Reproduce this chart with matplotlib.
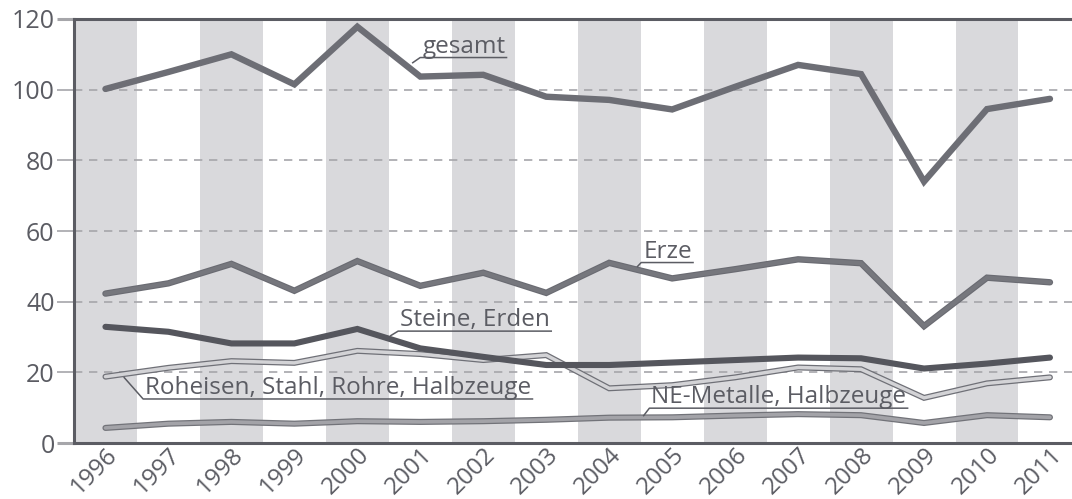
import matplotlib
matplotlib.use("Agg")
import matplotlib.pyplot as plt
import matplotlib.patheffects as pe
from matplotlib.transforms import ScaledTranslation

# Daten
jahre = ['1996', '1997', '1998', '1999', '2000', '2001', '2002', '2003',
         '2004', '2005', '2006', '2007', '2008', '2009', '2010', '2011']
gesamt = [100.2, 105.0, 110.0, 101.5, 117.8, 103.7, 104.2, 98.0,
          97.1, 94.4, 100.8, 107.0, 104.4, 74.0, 94.5, 97.4]
erze = [42.3, 45.2, 50.7, 43.1, 51.5, 44.5, 48.2, 42.5,
        51.0, 46.6, 49.2, 52.0, 50.9, 33.1, 46.8, 45.5]
steine_erden = [32.9, 31.5, 28.2, 28.2, 32.3, 26.8, 24.4, 22.1,
                22.1, 22.8, 23.5, 24.2, 24.0, 21.1, 22.5, 24.2]
roheisen = [18.8, 21.3, 23.2, 22.7, 26.1, 25.2, 23.5, 24.9,
            15.5, 16.4, 18.6, 21.4, 20.9, 12.8, 16.9, 18.6]
ne_metalle = [4.3, 5.5, 6.0, 5.5, 6.2, 6.0, 6.2, 6.6,
              7.2, 7.3, 7.8, 8.2, 7.9, 5.7, 7.9, 7.3]

y_ticks = [0, 20, 40, 60, 80, 100, 120]

# Beschriftungen: Text, Textposition (x, Grundlinie), Startpunkt der Hinweislinie
labels = [
    ('gesamt', (5.03, 110.5), (4.87, 107.5)),
    ('Erze', (8.54, 52.5), (8.44, 49.8)),
    ('Steine, Erden', (4.68, 33.1), (4.52, 30.3)),
    ('Roheisen, Stahl, Rohre, Halbzeuge', (0.63, 13.9), (0.29, 18.7)),
    ('NE-Metalle, Halbzeuge', (8.67, 11.3), (8.54, 7.6)),
]

dunkel = '#5b5c63'
plt.rcParams['font.family'] = ['Open Sans', 'DejaVu Sans']

fig = plt.figure(figsize=(10.72, 4.99), dpi=100)
ax = fig.add_axes([0.069, 0.112, 0.931, 0.850])

x = list(range(len(jahre)))

# graue Streifen
for i in x:
    if i % 2 == 0:
        ax.axvspan(i - 0.5, i + 0.5, color='#d9d9dc', lw=0, zorder=0)

# gestrichelte Hilfslinien
for v in y_ticks[1:-1]:
    ax.axhline(v, color='#a6a6aa', lw=1.2, ls=(0, (5, 4)), zorder=1)

def linie(werte, farbe, lw, rand=None, rand_lw=None):
    effekte = []
    if rand is not None:
        effekte = [pe.Stroke(linewidth=rand_lw, foreground=rand), pe.Normal()]
    ax.plot(x, werte, color=farbe, lw=lw, solid_capstyle='round',
            solid_joinstyle='miter', zorder=3, path_effects=effekte)

linie(ne_metalle, '#a3a3a8', 2.6, '#727379', 4.4)
linie(roheisen, '#d3d3d6', 2.5, '#6f7077', 4.3)
linie(steine_erden, '#55565d', 4.4)
linie(erze, '#76777d', 3.0, '#6a6b72', 4.6)
linie(gesamt, '#6d6e75', 4.6)

ax.set_xlim(-0.5, 15.35)
ax.set_ylim(0, 120)
ax.set_yticks(y_ticks)
ax.set_yticklabels([str(v) for v in y_ticks])
ax.set_xticks(x)
ax.set_xticklabels(jahre, rotation=45, ha='right', va='top',
                   rotation_mode='anchor')
versatz = ScaledTranslation(10 / 72, 0, fig.dpi_scale_trans)
for lab in ax.get_xticklabels():
    lab.set_transform(lab.get_transform() + versatz)

ax.tick_params(axis='y', length=12, width=1.2, color='#a6a6aa', pad=2,
               labelsize=18, labelcolor=dunkel)
ax.tick_params(axis='x', length=0, pad=0, labelsize=17.5, labelcolor=dunkel)
for t, v in zip(ax.yaxis.get_major_ticks(), y_ticks):
    if v in (0, 120):
        t.tick1line.set_color(dunkel)
        t.tick1line.set_markeredgewidth(2.2)

for s in ['left', 'bottom', 'top']:
    ax.spines[s].set_color(dunkel)
    ax.spines[s].set_linewidth(2.2)
ax.spines['right'].set_visible(False)

# Beschriftungen mit Unterstreichung und Hinweislinie
fig.canvas.draw()
renderer = fig.canvas.get_renderer()
inv = ax.transData.inverted()
for text, (tx, ty), (lx, ly) in labels:
    t = ax.text(tx, ty, text, fontsize=17.5, color=dunkel, ha='left',
                va='baseline', zorder=5)
    bb = t.get_window_extent(renderer)
    bx0, by = ax.transData.transform((tx, ty))
    ux0, uy = inv.transform((bx0 - 2, by - 5))
    ux1, _ = inv.transform((bb.x1 + 2, by - 5))
    ax.plot([lx, ux0, ux1], [ly, uy, uy], color=dunkel, lw=1.1,
            solid_capstyle='butt', zorder=4)

fig.savefig('out.png', dpi=100)
